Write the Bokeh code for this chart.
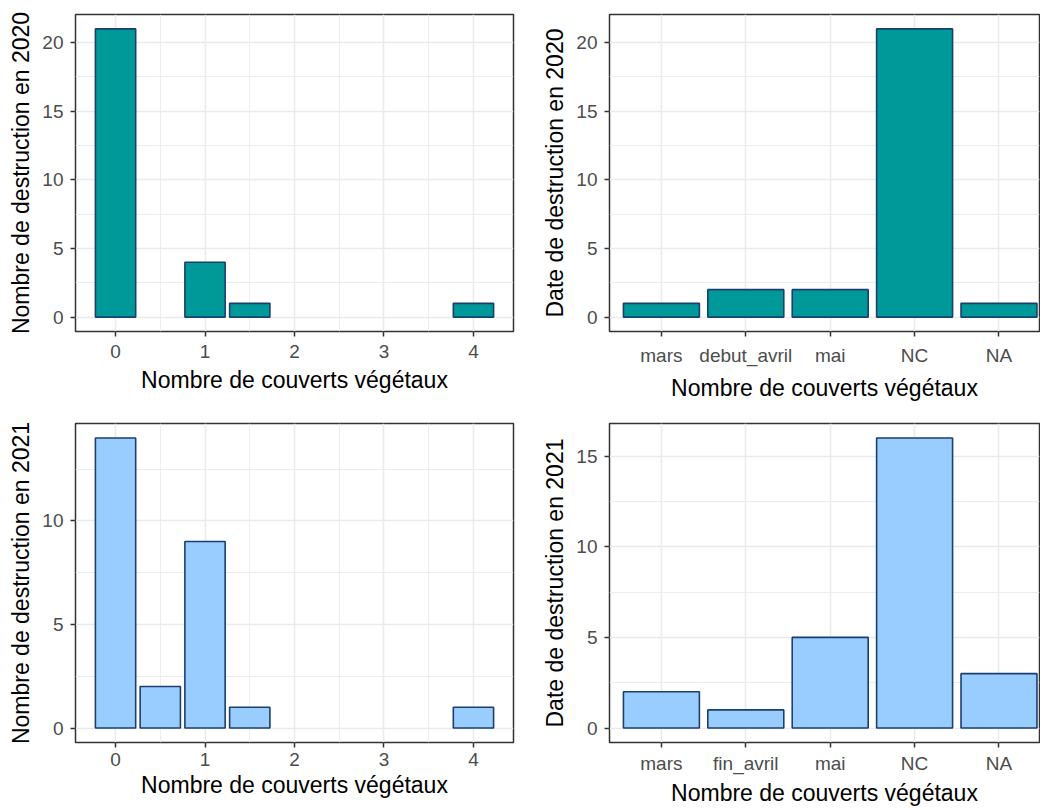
from bokeh.plotting import figure
from bokeh.layouts import gridplot
from bokeh.models import FixedTicker, Range1d
from bokeh.embed import file_html
from bokeh.resources import INLINE

# ---------------- data ----------------
couverts_2020 = [0, 1, 1.5, 4]
destruction_2020 = [21, 4, 1, 1]

couverts_2021 = [0, 0.5, 1, 1.5, 4]
destruction_2021 = [14, 2, 9, 1, 1]

dates_2020 = ["mars", "debut_avril", "mai", "NC", "NA"]
dates_counts_2020 = [1, 2, 2, 21, 1]

dates_2021 = ["mars", "fin_avril", "mai", "NC", "NA"]
dates_counts_2021 = [2, 1, 5, 16, 3]

x_title = "Nombre de couverts végétaux"
y_title_tl = "Nombre de destruction en 2020"
y_title_tr = "Date de destruction en 2020"
y_title_bl = "Nombre de destruction en 2021"
y_title_br = "Date de destruction en 2021"

x_ticks_num = [0, 1, 2, 3, 4]
x_minor_num = [0.5, 1.5, 2.5, 3.5]

# ---------------- style ----------------
FONT = "Liberation Sans"
TEAL = "#009999"
LIGHT = "#99CCFF"
EDGE = "#1B3F6E"
GRID = "#EBEBEB"
DARK = "#333333"


def style(p, y_major, y_minor, x_major, x_minor, y_label, x_label, xl_standoff, xt_standoff):
    p.outline_line_color = DARK
    p.outline_line_width = 1.5
    p.background_fill_color = "white"
    p.border_fill_color = "white"
    for ax in (p.xaxis[0], p.yaxis[0]):
        ax.axis_line_color = None
        ax.major_tick_line_color = DARK
        ax.major_tick_line_width = 1.5
        ax.major_tick_out = 5
        ax.major_tick_in = 0
        ax.minor_tick_line_color = None
        ax.major_label_text_font = FONT
        ax.major_label_text_font_size = "19px"
        ax.major_label_text_color = "#4D4D4D"
        ax.axis_label_text_font = FONT
        ax.axis_label_text_font_size = "23px"
        ax.axis_label_text_font_style = "normal"
        ax.axis_label_text_color = "black"
    p.xaxis[0].major_label_standoff = xl_standoff
    p.xaxis[0].axis_label_standoff = xt_standoff
    p.yaxis[0].major_label_standoff = 7
    p.yaxis[0].axis_label_standoff = 5
    p.xaxis[0].axis_label = x_label
    p.yaxis[0].axis_label = y_label
    p.yaxis[0].ticker = FixedTicker(ticks=y_major, minor_ticks=y_minor)
    p.xaxis[0].ticker = FixedTicker(ticks=x_major, minor_ticks=x_minor)
    for g in (p.xgrid[0], p.ygrid[0]):
        g.grid_line_color = GRID
        g.grid_line_width = 1.6
        g.minor_grid_line_color = GRID
        g.minor_grid_line_width = 0.9


def num_panel(xs, counts, fill, y_label, width, height, bl, br, bt, bb, xls, xts):
    ymax = max(counts)
    p = figure(width=width, height=height, output_backend="svg", toolbar_location=None,
               x_range=Range1d(-0.4475, 4.4475),
               y_range=Range1d(-0.05 * ymax, 1.05 * ymax),
               min_border_left=bl, min_border_right=br,
               min_border_top=bt, min_border_bottom=bb)
    p.vbar(x=xs, top=counts, bottom=0, width=0.45, fill_color=fill,
           line_color=EDGE, line_width=1.6)
    ymaj = [v for v in range(0, 25, 5) if v <= 1.05 * ymax]
    ymin = [v + 2.5 for v in ymaj]
    style(p, ymaj, ymin, x_ticks_num, x_minor_num, y_label, x_title, xls, xts)
    return p


def cat_panel(cats, counts, fill, y_label, width, height, bl, br, bt, bb, xls, xts):
    ymax = max(counts)
    pos = list(range(1, len(cats) + 1))
    p = figure(width=width, height=height, output_backend="svg", toolbar_location=None,
               x_range=Range1d(0.385, 5.48),
               y_range=Range1d(-0.05 * ymax, 1.05 * ymax),
               min_border_left=bl, min_border_right=br,
               min_border_top=bt, min_border_bottom=bb)
    p.vbar(x=pos, top=counts, bottom=0, width=0.9, fill_color=fill,
           line_color=EDGE, line_width=1.6)
    ymaj = [v for v in range(0, 25, 5) if v <= 1.05 * ymax]
    ymin = [v + 2.5 for v in ymaj]
    style(p, ymaj, ymin, pos, [], y_label, x_title, xls, xts)
    p.xaxis[0].major_label_overrides = {i: c for i, c in zip(pos, cats)}
    return p


p_tl = num_panel(couverts_2020, destruction_2020, TEAL, y_title_tl, 520, 403, 75, 7, 14, 72, 8, 6)
p_tr = cat_panel(dates_2020, dates_counts_2020, TEAL, y_title_tr, 520, 403, 89, 1, 14, 72, 8, 6)
p_bl = num_panel(couverts_2021, destruction_2021, LIGHT, y_title_bl, 520, 406, 75, 7, 20, 67, 5, 3)
p_br = cat_panel(dates_2021, dates_counts_2021, LIGHT, y_title_br, 520, 406, 89, 1, 20, 67, 5, 3)

grid = gridplot([[p_tl, p_tr], [p_bl, p_br]], toolbar_location=None)

open("out.html", "w").write(file_html(grid, INLINE))
